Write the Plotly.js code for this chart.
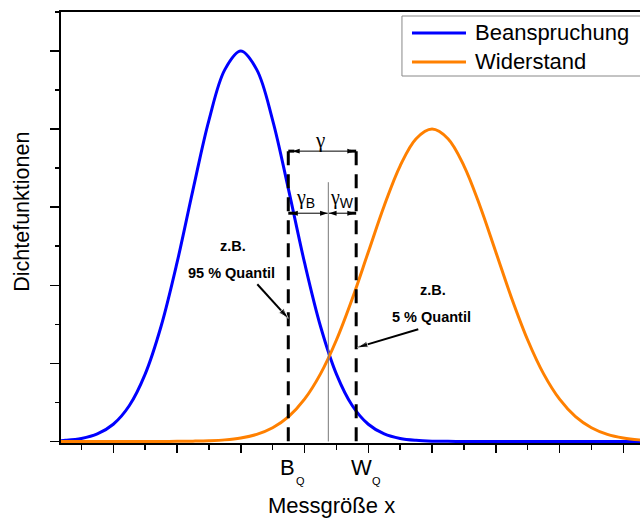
<!DOCTYPE html>
<html>
<head>
<meta charset="utf-8">
<script src="https://cdn.plot.ly/plotly-3.0.1.min.js"></script>
<style>
html,body{margin:0;padding:0;overflow:hidden;background:#fff;width:640px;height:518px;}
#chart{width:680px;height:518px;}
</style>
</head>
<body>
<div id="chart"></div>
<script>
// Messgröße x (grid of read points)
const xValues = [0,0.25,0.5,0.75,1,1.25,1.5,1.75,2,2.25,2.5,2.75,3,3.25,3.5,3.75,4,4.25,4.5,4.75,5,5.25,5.5,5.75,6,6.25,6.5,6.75,7,7.25,7.5,7.75,8,8.25,8.5,8.75,9,9.25,9.5,9.75,10];
// Beanspruchung density
const beanspruchung = [0.004,0.014,0.038,0.096,0.220,0.457,0.862,1.475,2.289,3.222,4.113,4.762,5.000,4.762,4.113,3.222,2.289,1.475,0.862,0.457,0.220,0.096,0.038,0.014,0.004,0.001,0,0,0,0,0,0,0,0,0,0,0,0,0,0,0];
// Widerstand density
const widerstand = [0,0,0,0,0,0,0,0,0.001,0.004,0.009,0.020,0.044,0.091,0.176,0.318,0.541,0.865,1.299,1.831,2.426,3.019,3.530,3.877,4.000,3.877,3.530,3.019,2.426,1.831,1.299,0.865,0.541,0.318,0.176,0.091,0.044,0.020,0.009,0.004,0.001];
// Quantile positions and bracket levels
const quantileNames = ["B", "W"];
const quantileX = [3.745, 4.81];      // B_Q, W_Q
const crossingX = 4.373;              // Schnittpunkt
const crossingTop = 3.32;
const gammaLevel = 3.718;
const gammaSubLevel = 2.923;
const stub = 0.095;
// pointer arrows: [tailX, tailY, headX, headY, angle]
const pointer95 = [3.259, 2.013, 3.745, 1.577, 137.6];
const pointer5 = [5.784, 1.436, 4.83, 1.205, 253.6];

const FONT = "Arial, 'Liberation Sans', sans-serif";

function dimArrowTrace(x0, x1, y) {
  return {x: [x0, x1], y: [y, y], type: 'scatter', mode: 'lines+markers', showlegend: false,
    line: {color: '#000', width: 1},
    marker: {symbol: 'arrow', size: 8, color: '#000', angle: [270, 90], angleref: 'up'}};
}
function pointerTrace(p) {
  return {x: [p[0], p[2]], y: [p[1], p[3]], type: 'scatter', mode: 'lines+markers', showlegend: false,
    line: {color: '#000', width: 2},
    marker: {symbol: 'arrow', size: [0, 11], color: '#000', angle: [0, p[4]], angleref: 'up'}};
}

const traces = [
  {x: xValues, y: beanspruchung, type: 'scatter', mode: 'lines', name: 'Beanspruchung',
   line: {color: '#0000ff', width: 3, shape: 'spline', smoothing: 1}},
  {x: xValues, y: widerstand, type: 'scatter', mode: 'lines', name: 'Widerstand',
   line: {color: '#ff8000', width: 3, shape: 'spline', smoothing: 1}},
  {x: [quantileX[0], quantileX[0]], y: [gammaLevel, 0], type: 'scatter', mode: 'lines', showlegend: false,
   line: {color: '#000', width: 3, dash: '14px,9px'}},
  {x: [quantileX[1], quantileX[1]], y: [gammaLevel, 0], type: 'scatter', mode: 'lines', showlegend: false,
   line: {color: '#000', width: 3, dash: '14px,9px'}},
  {x: [quantileX[0], quantileX[0] + stub, null, quantileX[1] - stub, quantileX[1], null,
       quantileX[0], quantileX[0] + stub, null, quantileX[1] - stub, quantileX[1]],
   y: [gammaLevel, gammaLevel, null, gammaLevel, gammaLevel, null,
       gammaSubLevel, gammaSubLevel, null, gammaSubLevel, gammaSubLevel],
   type: 'scatter', mode: 'lines', showlegend: false, line: {color: '#000', width: 3}},
  {x: [crossingX, crossingX], y: [0, crossingTop], type: 'scatter', mode: 'lines', showlegend: false,
   line: {color: '#777', width: 1}},
  dimArrowTrace(quantileX[0] + 0.06, quantileX[1] - 0.02, gammaLevel),
  dimArrowTrace(quantileX[0] + 0.03, crossingX - 0.01, gammaSubLevel),
  dimArrowTrace(crossingX + 0.01, quantileX[1] - 0.02, gammaSubLevel),
  pointerTrace(pointer95),
  pointerTrace(pointer5)
];

function label(text, x, y, size, extra) {
  return Object.assign({x: x, y: y, xref: 'x', yref: 'y', text: text, showarrow: false,
    xanchor: 'center', yanchor: 'middle', font: {family: FONT, size: size, color: '#000'}}, extra || {});
}

const annotations = [
  label('<span style="font-family:Liberation Serif">γ</span>', 4.25, 3.86, 21),
  label('<span style="font-family:Liberation Serif">γ</span><sub>B</sub>', 4.02, 3.11, 20),
  label('<span style="font-family:Liberation Serif">γ</span><sub>W</sub>', 4.59, 3.11, 20),
  label('<b>z.B.</b>', 2.882, 2.50, 14.5),
  label('<b>95 % Quantil</b>', 2.851, 2.154, 14.5),
  label('<b>z.B.</b>', 6.02, 1.936, 14.5),
  label('<b>5 % Quantil</b>', 5.988, 1.59, 14.5),
  label(quantileNames[0], 3.73, -0.058, 22, {yref: 'paper'}),
  label(quantileNames[1], 4.89, -0.058, 22, {yref: 'paper'}),
  label('Q', 3.93, -0.088, 11, {yref: 'paper'}),
  label('Q', 5.125, -0.088, 11, {yref: 'paper'}),
  {xref: 'paper', yref: 'paper', x: 0.456, y: -0.144, text: 'Messgröße x', showarrow: false,
   xanchor: 'center', yanchor: 'middle', font: {family: FONT, size: 22, color: '#000'}},
  {xref: 'paper', yref: 'paper', x: -0.066, y: 0.536, text: 'Dichtefunktionen', showarrow: false,
   textangle: -90, xanchor: 'center', yanchor: 'middle', font: {family: FONT, size: 21.5, color: '#000'}},
  {xref: 'paper', yref: 'paper', x: 0.6936, y: 0.9513, text: 'Beanspruchung', showarrow: false,
   xanchor: 'left', yanchor: 'middle', font: {family: FONT, size: 22, color: '#000'}},
  {xref: 'paper', yref: 'paper', x: 0.6936, y: 0.884, text: 'Widerstand', showarrow: false,
   xanchor: 'left', yanchor: 'middle', font: {family: FONT, size: 22, color: '#000'}}
];

const shapes = [
  {type: 'rect', xref: 'paper', yref: 'paper', x0: 0.574, x1: 1.3, y0: 0.8515, y1: 0.9907,
   line: {color: '#888', width: 1}, fillcolor: '#fff', layer: 'above'},
  {type: 'line', xref: 'paper', yref: 'paper', x0: 0.5909, x1: 0.6818, y0: 0.9513, y1: 0.9513,
   line: {color: '#0000ff', width: 3}},
  {type: 'line', xref: 'paper', yref: 'paper', x0: 0.5909, x1: 0.6818, y0: 0.884, y1: 0.884,
   line: {color: '#ff8000', width: 3}}
];

const axisCommon = {showgrid: false, zeroline: false, showline: true, linecolor: '#000', linewidth: 2,
  mirror: true, ticks: 'outside', tickcolor: '#000', tickwidth: 1.5, showticklabels: false,
  layer: 'below traces', fixedrange: true};

const layout = {
  width: 680, height: 518,
  margin: {l: 61, r: 25, t: 12, b: 75, pad: 0},
  paper_bgcolor: '#fff', plot_bgcolor: '#fff',
  showlegend: false,
  font: {family: FONT, color: '#000'},
  xaxis: Object.assign({}, axisCommon, {range: [0.18, 9.497], tick0: 0, dtick: 1, ticklen: 8,
    minor: {dtick: 0.5, tick0: 0, ticks: 'outside', ticklen: 5, tickwidth: 1.5, tickcolor: '#000'}}),
  yaxis: Object.assign({}, axisCommon, {range: [-0.02, 5.5], tick0: 0, dtick: 1, ticklen: 9,
    minor: {dtick: 0.5, tick0: 0, ticks: 'outside', ticklen: 4, tickwidth: 1.5, tickcolor: '#000'}}),
  annotations: annotations,
  shapes: shapes
};

Plotly.newPlot('chart', traces, layout, {displayModeBar: false, staticPlot: true});
</script>
</body>
</html>
